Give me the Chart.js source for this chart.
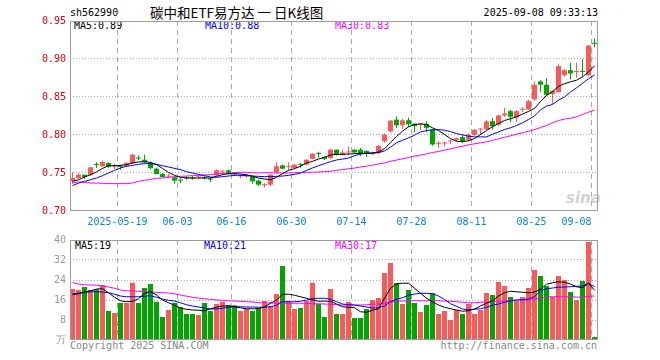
<!DOCTYPE html>
<html>
<head>
<meta charset="utf-8">
<script src="https://cdn.jsdelivr.net/npm/chart.js@4.4.1/dist/chart.umd.min.js"></script>
<style>
  body { margin: 0; background: #fff; width: 660px; height: 360px; position: relative; overflow: hidden;
         font-family: 'DejaVu Sans Mono', monospace; }
  .t { position: absolute; font-size: 10px; line-height: 12px; white-space: nowrap; }
  canvas { position: absolute; left: 0; }
</style>
</head>
<body>
<div class="t" style="left:70px;top:7px;">sh562990</div>
<div class="t" style="left:150px;top:4px;font-family:'Noto Sans CJK SC';font-size:13.5px;line-height:17px;">碳中和ETF易方达&nbsp;一&nbsp;日K线图</div>
<div class="t" style="right:62px;top:7px;">2025-09-08 09:33:13</div>

<div class="t" style="left:74px;top:20px;color:#000;">MA5:0.89</div>
<div class="t" style="left:205px;top:20px;color:#0000ff;">MA10:0.88</div>
<div class="t" style="left:335px;top:20px;color:#ff00ff;">MA30:0.83</div>

<div class="t" style="left:75px;top:240px;color:#000;">MA5:19</div>
<div class="t" style="left:204px;top:240px;color:#0000ff;">MA10:21</div>
<div class="t" style="left:335px;top:240px;color:#ff00ff;">MA30:17</div>

<div class="t" style="left:566px;top:190px;font-family:'DejaVu Sans';font-style:italic;font-weight:bold;font-size:15px;line-height:16px;color:#d2d2d2;">sina</div>

<div class="t" style="left:70px;top:340px;color:#888;">Copyright 2025 SINA.COM</div>
<div class="t" style="right:63px;top:340px;color:#888;">http://finance.sina.com.cn</div>

<canvas id="priceChart" width="660" height="236" style="top:0"></canvas>
<canvas id="volChart" width="660" height="120" style="top:230px"></canvas>

<script>
// daily candles, 2025-05-07 .. 2025-09-08
const opens  = [0.7395,0.7434,0.7478,0.7478,0.7612,0.7588,0.7632,0.7585,0.7590,0.7595,
                0.7630,0.7700,0.7675,0.7630,0.7557,0.7487,0.7452,0.7443,0.7405,0.7436,
                0.7436,0.7443,0.7440,0.7418,0.7470,0.7518,0.7535,0.7490,0.7455,0.7455,
                0.7455,0.7400,0.7340,0.7346,0.7510,0.7600,0.7577,0.7566,0.7610,0.7610,
                0.7685,0.7753,0.7710,0.7697,0.7807,0.7740,0.7770,0.7807,0.7807,0.7790,
                0.7748,0.7765,0.7918,0.8048,0.8202,0.8128,0.8194,0.8147,0.8133,0.8147,
                0.8072,0.7880,0.7888,0.7915,0.7937,0.7972,0.7937,0.8002,0.8072,0.8077,
                0.8182,0.8138,0.8257,0.8314,0.8231,0.8332,0.8336,0.8468,0.8705,0.8661,
                0.8538,0.8564,0.8787,0.8853,0.8829,0.8840,0.8787,0.9208];
const highs  = [0.7510,0.7500,0.7480,0.7580,0.7640,0.7660,0.7640,0.7620,0.7610,0.7640,
                0.7750,0.7730,0.7740,0.7640,0.7570,0.7500,0.7490,0.7450,0.7430,0.7460,
                0.7460,0.7470,0.7460,0.7440,0.7550,0.7540,0.7545,0.7510,0.7480,0.7480,
                0.7475,0.7410,0.7370,0.7490,0.7640,0.7610,0.7640,0.7620,0.7630,0.7680,
                0.7760,0.7780,0.7720,0.7820,0.7810,0.7810,0.7850,0.7815,0.7830,0.7800,
                0.7780,0.7870,0.8020,0.8200,0.8246,0.8210,0.8230,0.8155,0.8155,0.8180,
                0.8080,0.7920,0.7910,0.7940,0.7970,0.8000,0.8020,0.8080,0.8090,0.8200,
                0.8226,0.8270,0.8360,0.8330,0.8330,0.8370,0.8460,0.8700,0.8720,0.8748,
                0.8590,0.8930,0.8870,0.8950,0.8950,0.9000,0.9178,0.9265];
const lows   = [0.7360,0.7420,0.7420,0.7460,0.7566,0.7580,0.7570,0.7550,0.7540,0.7580,
                0.7620,0.7670,0.7630,0.7550,0.7480,0.7440,0.7430,0.7360,0.7370,0.7410,
                0.7410,0.7420,0.7410,0.7380,0.7460,0.7480,0.7480,0.7460,0.7430,0.7440,
                0.7360,0.7330,0.7310,0.7330,0.7500,0.7550,0.7540,0.7560,0.7570,0.7600,
                0.7680,0.7700,0.7670,0.7680,0.7730,0.7730,0.7730,0.7760,0.7720,0.7710,
                0.7740,0.7750,0.7900,0.8030,0.8093,0.8080,0.8110,0.8037,0.8070,0.8037,
                0.7860,0.7831,0.7850,0.7880,0.7920,0.7890,0.7920,0.7990,0.8000,0.8060,
                0.8072,0.8120,0.8240,0.8170,0.8170,0.8300,0.8330,0.8450,0.8570,0.8520,
                0.8400,0.8560,0.8770,0.8730,0.8753,0.8770,0.8770,0.9156];
const closes = [0.7434,0.7478,0.7447,0.7575,0.7605,0.7645,0.7580,0.7590,0.7580,0.7630,
                0.7740,0.7690,0.7645,0.7566,0.7487,0.7447,0.7465,0.7400,0.7400,0.7430,
                0.7430,0.7448,0.7433,0.7412,0.7535,0.7522,0.7490,0.7485,0.7458,0.7460,
                0.7390,0.7347,0.7350,0.7478,0.7588,0.7557,0.7580,0.7610,0.7605,0.7675,
                0.7755,0.7750,0.7685,0.7807,0.7740,0.7770,0.7780,0.7770,0.7760,0.7752,
                0.7752,0.7857,0.8004,0.8189,0.8128,0.8194,0.8140,0.8116,0.8138,0.8094,
                0.7875,0.7888,0.7893,0.7920,0.7958,0.7920,0.8002,0.8068,0.8077,0.8178,
                0.8116,0.8257,0.8283,0.8240,0.8314,0.8336,0.8446,0.8661,0.8661,0.8529,
                0.8582,0.8906,0.8853,0.8809,0.8836,0.8830,0.9178,0.9200];

const ma5  = [0.7390,0.7410,0.7447,0.7478,0.7515,0.7560,0.7596,0.7596,0.7600,0.7610,
              0.7632,0.7645,0.7648,0.7640,0.7610,0.7560,0.7509,0.7469,0.7443,0.7434,
              0.7434,0.7434,0.7434,0.7434,0.7456,0.7478,0.7491,0.7491,0.7487,0.7478,
              0.7456,0.7434,0.7421,0.7412,0.7443,0.7491,0.7535,0.7557,0.7588,0.7632,
              0.7653,0.7684,0.7706,0.7737,0.7746,0.7746,0.7750,0.7754,0.7759,0.7759,
              0.7763,0.7776,0.7820,0.7900,0.7980,0.8050,0.8107,0.8138,0.8147,0.8138,
              0.8094,0.8059,0.8006,0.7953,0.7918,0.7914,0.7923,0.7953,0.8006,0.8059,
              0.8110,0.8150,0.8190,0.8215,0.8240,0.8275,0.8310,0.8350,0.8440,0.8520,
              0.8570,0.8640,0.8675,0.8700,0.8720,0.8765,0.8830,0.8910];
const ma10 = [0.7333,0.7368,0.7390,0.7412,0.7434,0.7465,0.7500,0.7535,0.7566,0.7588,
              0.7600,0.7614,0.7623,0.7623,0.7614,0.7596,0.7579,0.7561,0.7544,0.7518,
              0.7500,0.7482,0.7465,0.7447,0.7443,0.7452,0.7460,0.7469,0.7469,0.7465,
              0.7460,0.7456,0.7452,0.7452,0.7456,0.7460,0.7469,0.7482,0.7500,0.7535,
              0.7566,0.7596,0.7623,0.7649,0.7671,0.7684,0.7697,0.7728,0.7750,0.7759,
              0.7763,0.7768,0.7790,0.7840,0.7897,0.7931,0.7962,0.7997,0.8041,0.8059,
              0.8068,0.8072,0.8063,0.8045,0.8019,0.8002,0.7984,0.7975,0.7975,0.7975,
              0.8010,0.8040,0.8072,0.8095,0.8125,0.8160,0.8205,0.8250,0.8330,0.8380,
              0.8402,0.8460,0.8500,0.8565,0.8620,0.8680,0.8740,0.8790];
const ma30 = [0.7368,0.7382,0.7377,0.7368,0.7368,0.7364,0.7360,0.7360,0.7360,0.7360,
              0.7368,0.7390,0.7404,0.7417,0.7430,0.7434,0.7443,0.7452,0.7456,0.7460,
              0.7465,0.7469,0.7474,0.7478,0.7487,0.7496,0.7500,0.7504,0.7509,0.7509,
              0.7504,0.7500,0.7504,0.7504,0.7500,0.7500,0.7500,0.7504,0.7504,0.7509,
              0.7509,0.7513,0.7518,0.7522,0.7535,0.7545,0.7555,0.7565,0.7580,0.7590,
              0.7603,0.7620,0.7632,0.7655,0.7670,0.7687,0.7704,0.7722,0.7735,0.7752,
              0.7770,0.7783,0.7801,0.7818,0.7836,0.7853,0.7871,0.7884,0.7897,0.7910,
              0.7930,0.7950,0.7970,0.7990,0.8010,0.8030,0.8050,0.8070,0.8100,0.8125,
              0.8160,0.8190,0.8210,0.8220,0.8240,0.8270,0.8300,0.8330];

// volume, 万手
const vols  = [20.4,20.0,21.2,20.0,20.3,22.0,11.6,10.8,14.8,14.8,
               22.9,14.8,20.8,22.4,15.3, 9.2,12.0,14.9,13.2,10.4,
               10.4,10.0,14.8,11.6,14.4,15.3,14.0,13.9,11.6,12.4,
               11.6,12.9,15.6,13.6,18.4,29.6,15.6,12.4,12.8,15.6,
               22.9,14.4, 9.2,20.4,10.4,10.4,15.2, 8.8, 8.8,12.4,
               16.0,16.8,26.8,30.8,22.8,14.4,20.0,14.8,11.2,14.0,
               18.8,10.4,11.6, 8.0,12.0,10.4,14.4,10.4,12.0,18.8,
               18.0,23.2,21.6,17.2,15.6,17.2,20.8,28.0,25.6,21.6,
               17.2,25.6,24.0,19.2,16.0,23.6,39.2, 1.2];
const vma5  = [18.1,18.5,19.1,19.7,20.4,20.5,18.9,17.1,15.7,15.3,
               15.5,16.5,18.7,19.3,18.0,16.0,14.9,13.9,12.7,12.3,
               12.0,11.9,11.7,12.5,13.1,13.6,13.6,13.3,12.9,12.5,
               12.5,12.5,13.3,14.7,16.0,18.3,18.3,17.9,17.3,16.7,
               16.0,15.5,15.6,15.5,14.4,13.3,13.1,12.9,11.3,11.1,
               11.9,12.5,16.7,20.7,22.4,22.7,22.7,20.7,18.7,16.7,
               15.3,14.0,13.1,12.5,12.0,11.5,11.7,12.4,13.6,14.7,
               15.7,17.6,18.9,19.5,19.3,19.1,18.9,19.2,20.3,22.3,
               22.9,23.3,23.1,22.4,21.3,20.9,22.7,19.9];
const vma10 = [18.4,18.8,19.1,19.3,19.3,19.2,18.9,18.3,17.6,17.3,
               17.3,17.3,17.5,17.7,17.1,16.3,15.9,15.6,14.9,14.1,
               13.6,13.2,12.8,12.4,12.4,12.7,13.1,13.3,13.3,13.2,
               13.2,13.1,13.1,13.3,13.9,15.3,15.3,15.3,15.5,16.0,
               16.5,16.7,16.7,16.3,15.3,14.4,14.1,14.0,13.6,13.2,
               12.8,12.9,13.6,15.3,16.3,16.9,17.9,18.4,18.7,18.7,
               18.5,17.6,16.2,14.5,13.5,12.4,12.1,12.3,12.5,13.1,
               13.9,14.4,15.1,15.6,16.0,16.1,16.4,17.3,19.7,20.5,
               20.8,21.1,21.2,21.3,21.5,21.6,22.7,21.3];
const vma30 = [22.9,22.4,22.1,22.0,21.9,21.6,21.2,20.7,20.0,19.7,
               19.6,19.5,19.3,19.2,19.1,18.9,18.8,18.5,18.0,17.5,
               17.1,16.8,16.5,16.3,16.0,15.9,15.7,15.6,15.5,15.3,
               15.2,14.9,14.9,14.8,14.7,14.7,14.7,14.7,14.7,14.7,
               14.5,14.5,14.4,14.3,14.1,14.0,14.0,14.0,14.0,14.1,
               14.3,14.4,14.7,15.2,15.5,15.6,15.7,15.7,15.7,15.7,
               15.7,15.7,15.6,15.5,15.3,15.1,14.9,14.9,15.1,15.2,
               15.3,15.5,15.6,15.9,16.0,16.0,16.0,16.3,16.7,17.3,
               17.3,17.3,17.3,17.3,17.2,17.1,17.5,17.6];

// x-axis: candle index where each date label sits
const tickIdx    = [8, 18, 27, 37, 47, 57, 67, 77, 87];
const tickLabels = ['2025-05-19', '06-03', '06-16', '06-30', '07-14', '07-28', '08-11', '08-25', '09-08'];

const UP = '#ff5858', DOWN = '#00a600';
const candleColors = closes.map((c, i) => c >= opens[i] ? UP : DOWN);

Chart.defaults.font.family = "'DejaVu Sans Mono', monospace";
Chart.defaults.font.size = 10;
Chart.defaults.color = '#999';

const X_MIN = -5 / 12, X_MAX = 88 - 5 / 12;

const frame = {
  id: 'frame',
  afterDraw(chart) {
    const { ctx, chartArea: a } = chart;
    ctx.save();
    ctx.strokeStyle = '#9c9c9c';
    ctx.lineWidth = 1;
    ctx.strokeRect(Math.round(a.left) + 0.5, Math.round(a.top) + 0.5,
                   Math.round(a.right - a.left) - 1, Math.round(a.bottom - a.top) - 1);
    ctx.restore();
  }
};

function xAxis(showLabels, height) {
  return {
    type: 'linear', min: X_MIN, max: X_MAX, offset: false,
    afterBuildTicks(s) {
      s.ticks = [{ value: X_MIN }].concat(tickIdx.map(i => ({ value: i - 0.5 })));
    },
    afterFit(s) { s.height = height; },
    ticks: {
      display: showLabels, autoSkip: false, maxRotation: 0, align: 'inner',
      color: '#0d80d8', padding: 5,
      callback: (v, i) => i === 0 ? '' : tickLabels[i - 1]
    },
    grid: { offset: false, drawTicks: false, color: c => c.index === 0 ? 'rgba(0,0,0,0)' : '#aaa' },
    border: { display: false, dash: [5, 4] }
  };
}

const pts = arr => arr.map((v, i) => ({ x: i, y: v }));

function maLine(arr, color) {
  return { type: 'line', data: pts(arr), borderColor: color, borderWidth: 1,
           pointRadius: 0, tension: 0, fill: false, order: 0 };
}

const barBase = { type: 'bar', grouped: false, inflateAmount: 0, borderWidth: 0, order: 1 };

new Chart(document.getElementById('priceChart'), {
  data: {
    datasets: [
      Object.assign({}, barBase, {
        data: lows.map((l, i) => ({ x: i, y: [l, highs[i]] })),
        backgroundColor: candleColors, barThickness: 1
      }),
      Object.assign({}, barBase, {
        data: opens.map((o, i) => ({ x: i, y: [o, closes[i]] })),
        backgroundColor: candleColors, barThickness: 5, minBarLength: 1
      }),
      maLine(ma5, '#000000'),
      maLine(ma10, '#0000ff'),
      maLine(ma30, '#ff00ff')
    ]
  },
  options: {
    responsive: false, animation: false, devicePixelRatio: 1,
    layout: { padding: { left: 0, right: 62, top: 21, bottom: 0 } },
    plugins: { legend: { display: false }, tooltip: { enabled: false } },
    scales: {
      x: xAxis(true, 25),
      y: {
        min: 0.70, max: 0.95,
        afterFit(s) { s.width = 70; },
        ticks: { stepSize: 0.05, color: '#ee0000', padding: 4, callback: v => v.toFixed(2) },
        grid: { drawTicks: false, color: c => (c.tick.value > 0.701 && c.tick.value < 0.949) ? '#aaa' : 'rgba(0,0,0,0)' },
        border: { display: false, dash: [1, 2] }
      }
    }
  },
  plugins: [frame]
});

new Chart(document.getElementById('volChart'), {
  data: {
    datasets: [
      Object.assign({}, barBase, {
        data: pts(vols), backgroundColor: candleColors, barThickness: 5
      }),
      maLine(vma5, '#000000'),
      maLine(vma10, '#0000ff'),
      maLine(vma30, '#ff00ff')
    ]
  },
  options: {
    responsive: false, animation: false, devicePixelRatio: 1,
    layout: { padding: { left: 0, right: 62, top: 10, bottom: 0 } },
    plugins: { legend: { display: false }, tooltip: { enabled: false } },
    scales: {
      x: xAxis(false, 10),
      y: {
        min: 0, max: 40,
        afterFit(s) { s.width = 70; },
        ticks: { stepSize: 8, color: '#999', padding: 4, callback: v => v === 0 ? '万' : v },
        grid: { drawTicks: false, color: c => (c.tick.value > 0 && c.tick.value < 40) ? '#aaa' : 'rgba(0,0,0,0)' },
        border: { display: false, dash: [1, 2] }
      }
    }
  },
  plugins: [frame]
});
</script>
</body>
</html>
